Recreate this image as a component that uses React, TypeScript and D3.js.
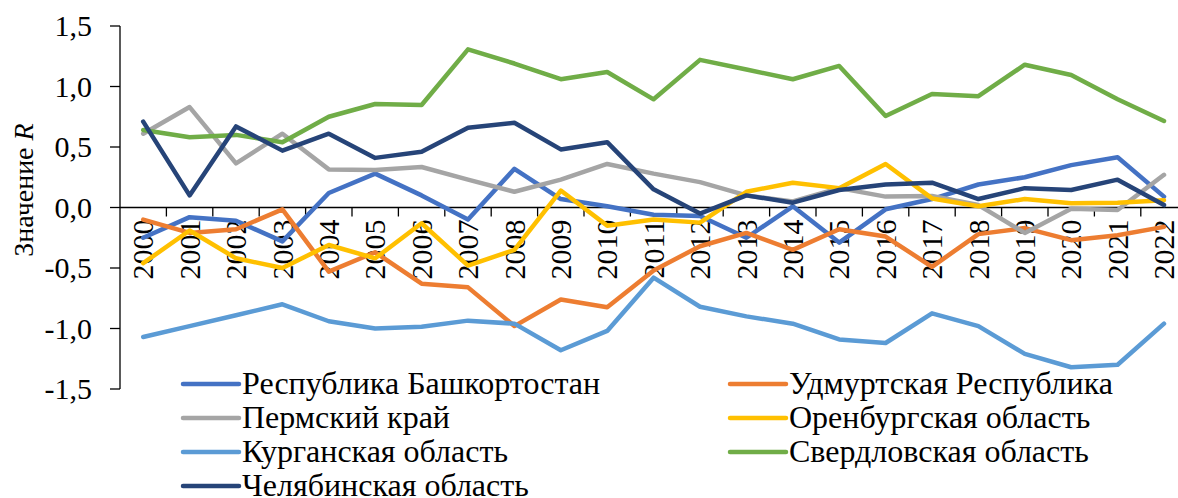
import React from 'react';
import * as d3 from 'd3';

const width = 1178;
const height = 498;
const margin = { top: 26, left: 120, bottom: 109 };

const years = d3.range(2000, 2023).map(String);

const bashkortostan = [-0.25, -0.08, -0.11, -0.28, 0.12, 0.28, 0.1, -0.1, 0.32, 0.07, 0.01, -0.06, -0.07, -0.25, 0.01, -0.29, -0.015, 0.07, 0.19, 0.25, 0.35, 0.415, 0.09];
const udmurtia = [-0.1, -0.21, -0.18, -0.015, -0.53, -0.37, -0.63, -0.66, -0.98, -0.76, -0.825, -0.52, -0.32, -0.21, -0.35, -0.18, -0.24, -0.49, -0.22, -0.17, -0.27, -0.23, -0.16];
const perm = [0.61, 0.83, 0.365, 0.61, 0.315, 0.31, 0.335, 0.23, 0.13, 0.23, 0.36, 0.28, 0.21, 0.1, 0.05, 0.16, 0.09, 0.095, 0.02, -0.21, -0.01, -0.02, 0.27];
const orenburg = [-0.46, -0.19, -0.42, -0.5, -0.31, -0.42, -0.13, -0.48, -0.35, 0.14, -0.15, -0.1, -0.125, 0.13, 0.205, 0.16, 0.36, 0.075, 0.01, 0.07, 0.035, 0.04, 0.06];
const kurgan = [-1.07, -0.98, -0.89, -0.8, -0.94, -1.0, -0.985, -0.935, -0.96, -1.18, -1.02, -0.58, -0.82, -0.9, -0.96, -1.09, -1.12, -0.875, -0.98, -1.21, -1.32, -1.3, -0.96];
const sverdlovsk = [0.64, 0.58, 0.6, 0.54, 0.75, 0.855, 0.847, 1.307, 1.19, 1.06, 1.12, 0.894, 1.22, 1.14, 1.06, 1.17, 0.756, 0.938, 0.92, 1.18, 1.095, 0.894, 0.715];
const chelyabinsk = [0.71, 0.1, 0.67, 0.47, 0.61, 0.41, 0.46, 0.66, 0.7, 0.48, 0.54, 0.15, -0.05, 0.1, 0.04, 0.145, 0.19, 0.205, 0.07, 0.16, 0.145, 0.23, 0.02];

const seriesNames = [
  'Республика Башкортостан',
  'Удмуртская Республика',
  'Пермский край',
  'Оренбургская область',
  'Курганская область',
  'Свердловская область',
  'Челябинская область'
];
const seriesValues = [bashkortostan, udmurtia, perm, orenburg, kurgan, sverdlovsk, chelyabinsk];
const colors = ['#4472C4', '#ED7D31', '#A5A5A5', '#FFC000', '#5B9BD5', '#70AD47', '#264478'];

const yTicks = [-1.5, -1, -0.5, 0, 0.5, 1, 1.5];
const font = "'Liberation Serif', Tinos, 'DejaVu Serif', serif";

const x = d3
  .scaleBand()
  .domain(years)
  .range([margin.left, margin.left + 23 * 46.4]);
const y = d3
  .scaleLinear()
  .domain([-1.5, 1.5])
  .range([height - margin.bottom, margin.top]);

const fmt = (v: number) => d3.format('.1f')(v).replace('.', ',').replace('−', '-');

const line = d3
  .line<number>()
  .x((d, i) => x(years[i])! + x.bandwidth() / 2)
  .y(d => y(d));

export default function App() {
  const y0 = y(0);
  return (
    <svg width={width} height={height} style={{ position: 'absolute', left: 0, top: 0, background: '#fff', fontFamily: font }}>
      {/* axes */}
      <line x1={margin.left} x2={margin.left} y1={y(1.5)} y2={y(-1.5)} stroke="#000" strokeWidth={1.3} />
      {yTicks.map(t => (
        <g key={t}>
          <line x1={margin.left - 10} x2={margin.left} y1={y(t)} y2={y(t)} stroke="#000" strokeWidth={1.3} />
          <text x={92} y={y(t)} dy="0.34em" textAnchor="end" fontSize={30} style={{ fontFamily: font }}>
            {fmt(t)}
          </text>
        </g>
      ))}
      <line x1={margin.left} x2={width} y1={y0} y2={y0} stroke="#000" strokeWidth={1.3} />
      {years.map(yr => (
        <g key={yr}>
          <line x1={x(yr)! + x.bandwidth()} x2={x(yr)! + x.bandwidth()} y1={y0} y2={y0 + 9} stroke="#000" strokeWidth={1.3} />
          <text
            transform={`translate(${x(yr)! + x.bandwidth() / 2}, ${y0 + 12}) rotate(-90)`}
            textAnchor="end"
            dy="0.34em"
            fontSize={30}
            style={{ fontFamily: font }}
          >
            {yr}
          </text>
        </g>
      ))}
      <text transform={`translate(33, 190) rotate(-90)`} textAnchor="middle" fontSize={28} style={{ fontFamily: font }}>
        Значение <tspan fontStyle="italic">R</tspan>
      </text>

      {/* series */}
      {seriesValues.map((vals, i) => (
        <path
          key={seriesNames[i]}
          d={line(vals)!}
          fill="none"
          stroke={colors[i]}
          strokeWidth={4.5}
          strokeLinejoin="round"
          strokeLinecap="round"
        />
      ))}

      {/* legend */}
      {seriesNames.map((name, i) => {
        const col = i % 2;
        const row = Math.floor(i / 2);
        const lx = col === 0 ? 183 : 730;
        const ly = 384 + row * 34;
        return (
          <g key={name}>
            <line x1={lx} x2={lx + 56} y1={ly} y2={ly} stroke={colors[i]} strokeWidth={4.5} strokeLinecap="round" />
            <text x={lx + 59} y={ly + 10} fontSize={32} style={{ fontFamily: font }}>
              {name}
            </text>
          </g>
        );
      })}
    </svg>
  );
}
